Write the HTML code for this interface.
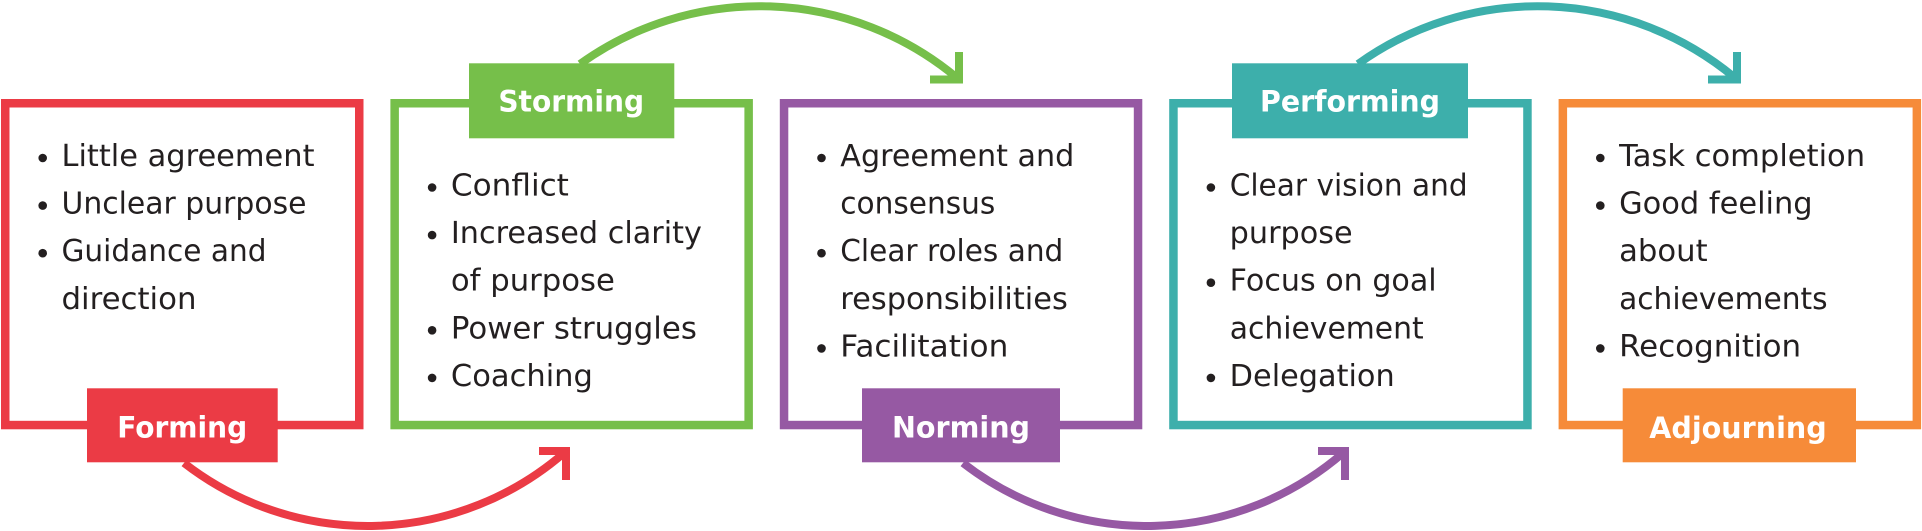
<!DOCTYPE html>
<html>
<head>
<meta charset="utf-8">
<style>
  html, body { margin: 0; padding: 0; background: #ffffff; }
  svg { display: block; }
  .t { font-family: "DejaVu Sans", "Liberation Sans", sans-serif; font-size: 30px; fill: #231F20; }
  .l { font-family: "DejaVu Sans", "Liberation Sans", sans-serif; font-size: 29.5px; font-weight: bold; fill: #ffffff; }
</style>
</head>
<body>
<svg width="1922" height="531" viewBox="0 0 1922 531" xmlns="http://www.w3.org/2000/svg">
  <!-- Boxes -->
  <rect x="5.25" y="103.25" width="354" height="321.8" fill="none" stroke="#EB3B45" stroke-width="8.5"/>
  <rect x="394.65" y="103.25" width="354" height="321.8" fill="none" stroke="#76BF4A" stroke-width="8.5"/>
  <rect x="784.05" y="103.25" width="354" height="321.8" fill="none" stroke="#9659A3" stroke-width="8.5"/>
  <rect x="1173.45" y="103.25" width="354" height="321.8" fill="none" stroke="#3DAFAB" stroke-width="8.5"/>
  <rect x="1562.85" y="103.25" width="354" height="321.8" fill="none" stroke="#F68B39" stroke-width="8.5"/>

  <!-- Connector arcs -->
  <path d="M184,463 A300,300 0 0 0 564,453" fill="none" stroke="#EB3B45" stroke-width="8"/>
  <polyline points="539,451 566,451 566,480" fill="none" stroke="#EB3B45" stroke-width="8" stroke-linejoin="miter"/>

  <path d="M580,64 A308,308 0 0 1 956,77" fill="none" stroke="#76BF4A" stroke-width="8"/>
  <polyline points="959,52 959,79.5 930,79.5" fill="none" stroke="#76BF4A" stroke-width="8" stroke-linejoin="miter"/>

  <path d="M963,463 A300,300 0 0 0 1343,453" fill="none" stroke="#9659A3" stroke-width="8"/>
  <polyline points="1318,451 1345,451 1345,480" fill="none" stroke="#9659A3" stroke-width="8" stroke-linejoin="miter"/>

  <path d="M1358,64 A308,308 0 0 1 1734,77" fill="none" stroke="#3DAFAB" stroke-width="8"/>
  <polyline points="1737,52 1737,79.5 1708,79.5" fill="none" stroke="#3DAFAB" stroke-width="8" stroke-linejoin="miter"/>

  <!-- Labels -->
  <rect x="87" y="388.3" width="190.7" height="74" fill="#EB3B45"/>
  <text class="l" x="182.2" y="437.3" text-anchor="middle" textLength="130" lengthAdjust="spacingAndGlyphs">Forming</text>

  <rect x="469" y="63.3" width="205.3" height="75" fill="#76BF4A"/>
  <text class="l" x="571.2" y="111.7" text-anchor="middle" textLength="145.7" lengthAdjust="spacingAndGlyphs">Storming</text>

  <rect x="862" y="388.3" width="198" height="74" fill="#9659A3"/>
  <text class="l" x="961" y="437.5" text-anchor="middle" textLength="138" lengthAdjust="spacingAndGlyphs">Norming</text>

  <rect x="1232" y="63.3" width="236" height="75" fill="#3DAFAB"/>
  <text class="l" x="1350" y="111.7" text-anchor="middle" textLength="180" lengthAdjust="spacingAndGlyphs">Performing</text>

  <rect x="1622.7" y="388.3" width="233.3" height="74" fill="#F68B39"/>
  <text class="l" x="1738" y="437.8" text-anchor="middle" textLength="177.4" lengthAdjust="spacingAndGlyphs">Adjourning</text>

  <!-- Forming text -->
  <g fill="#231F20">
    <circle cx="42.7" cy="158" r="4.3"/>
    <circle cx="42.7" cy="205.6" r="4.3"/>
    <circle cx="42.7" cy="253.2" r="4.3"/>
  </g>
  <text class="t" x="61.5" y="166" textLength="253" lengthAdjust="spacingAndGlyphs">Little agreement</text>
  <text class="t" x="61.5" y="213.6" textLength="245" lengthAdjust="spacingAndGlyphs">Unclear purpose</text>
  <text class="t" x="61.5" y="261.2" textLength="205" lengthAdjust="spacingAndGlyphs">Guidance and</text>
  <text class="t" x="61.5" y="308.8" textLength="135" lengthAdjust="spacingAndGlyphs">direction</text>

  <!-- Storming text -->
  <g fill="#231F20">
    <circle cx="432.1" cy="187.5" r="4.3"/>
    <circle cx="432.1" cy="235.1" r="4.3"/>
    <circle cx="432.1" cy="330.3" r="4.3"/>
    <circle cx="432.1" cy="377.9" r="4.3"/>
  </g>
  <text class="t" x="450.9" y="195.5" textLength="118" lengthAdjust="spacingAndGlyphs">Conflict</text>
  <text class="t" x="450.9" y="243.1" textLength="251" lengthAdjust="spacingAndGlyphs">Increased clarity</text>
  <text class="t" x="450.9" y="290.7" textLength="164" lengthAdjust="spacingAndGlyphs">of purpose</text>
  <text class="t" x="450.9" y="338.3" textLength="246" lengthAdjust="spacingAndGlyphs">Power struggles</text>
  <text class="t" x="450.9" y="385.9" textLength="142" lengthAdjust="spacingAndGlyphs">Coaching</text>

  <!-- Norming text -->
  <g fill="#231F20">
    <circle cx="821.5" cy="158" r="4.3"/>
    <circle cx="821.5" cy="253.2" r="4.3"/>
    <circle cx="821.5" cy="348.4" r="4.3"/>
  </g>
  <text class="t" x="840.3" y="166" textLength="234" lengthAdjust="spacingAndGlyphs">Agreement and</text>
  <text class="t" x="840.3" y="213.6" textLength="155" lengthAdjust="spacingAndGlyphs">consensus</text>
  <text class="t" x="840.3" y="261.2" textLength="223" lengthAdjust="spacingAndGlyphs">Clear roles and</text>
  <text class="t" x="840.3" y="308.8" textLength="227.5" lengthAdjust="spacingAndGlyphs">responsibilities</text>
  <text class="t" x="840.3" y="356.4" textLength="168" lengthAdjust="spacingAndGlyphs">Facilitation</text>

  <!-- Performing text -->
  <g fill="#231F20">
    <circle cx="1210.9" cy="187.5" r="4.3"/>
    <circle cx="1210.9" cy="282.7" r="4.3"/>
    <circle cx="1210.9" cy="377.9" r="4.3"/>
  </g>
  <text class="t" x="1229.7" y="195.5" textLength="238" lengthAdjust="spacingAndGlyphs">Clear vision and</text>
  <text class="t" x="1229.7" y="243.1" textLength="123" lengthAdjust="spacingAndGlyphs">purpose</text>
  <text class="t" x="1229.7" y="290.7" textLength="207" lengthAdjust="spacingAndGlyphs">Focus on goal</text>
  <text class="t" x="1229.7" y="338.3" textLength="194" lengthAdjust="spacingAndGlyphs">achievement</text>
  <text class="t" x="1229.7" y="385.9" textLength="165" lengthAdjust="spacingAndGlyphs">Delegation</text>

  <!-- Adjourning text -->
  <g fill="#231F20">
    <circle cx="1600.3" cy="158" r="4.3"/>
    <circle cx="1600.3" cy="205.6" r="4.3"/>
    <circle cx="1600.3" cy="348.4" r="4.3"/>
  </g>
  <text class="t" x="1619.1" y="166" textLength="246" lengthAdjust="spacingAndGlyphs">Task completion</text>
  <text class="t" x="1619.1" y="213.6" textLength="193.5" lengthAdjust="spacingAndGlyphs">Good feeling</text>
  <text class="t" x="1619.1" y="261.2" textLength="88.5" lengthAdjust="spacingAndGlyphs">about</text>
  <text class="t" x="1619.1" y="308.8" textLength="208.5" lengthAdjust="spacingAndGlyphs">achievements</text>
  <text class="t" x="1619.1" y="356.4" textLength="182" lengthAdjust="spacingAndGlyphs">Recognition</text>
</svg>
</body>
</html>
